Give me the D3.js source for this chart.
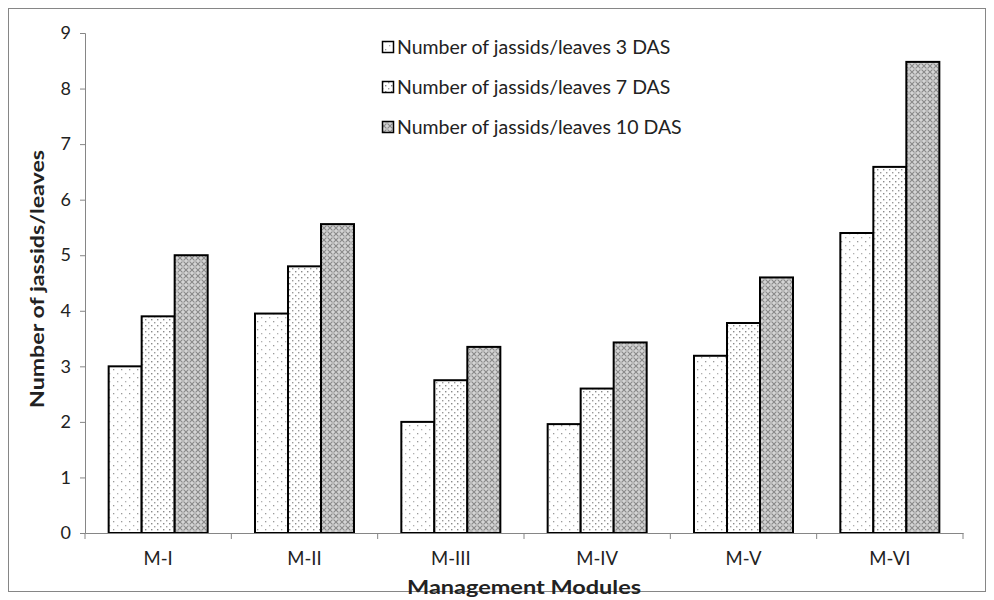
<!DOCTYPE html>
<html><head><meta charset="utf-8">
<script src="https://cdn.jsdelivr.net/npm/d3@7"></script>
<style>body{margin:0;background:#fff}svg{display:block}</style>
</head><body>
<svg id="c" width="994" height="600"></svg>
<script>
const categories = ["M-I","M-II","M-III","M-IV","M-V","M-VI"];
const seriesNames = ["Number of jassids/leaves 3 DAS","Number of jassids/leaves 7 DAS","Number of jassids/leaves 10 DAS"];
const das3 = [3.0, 3.95, 2.0, 1.96, 3.19, 5.4];
const das7 = [3.9, 4.8, 2.75, 2.6, 3.78, 6.59];
const das10 = [5.0, 5.56, 3.35, 3.43, 4.6, 8.48];
const yTicks = [0,1,2,3,4,5,6,7,8,9];
const series = [das3, das7, das10];

(function(){
const font = "Lato, 'Open Sans', sans-serif";
const svg = d3.select("#c");
svg.append("rect").attr("x",8.5).attr("y",8.5).attr("width",977).attr("height",583)
  .attr("fill","#fff").attr("stroke","#868686").attr("stroke-width",1);

const defs = svg.append("defs");
const p1 = defs.append("pattern").attr("id","p0").attr("patternUnits","userSpaceOnUse").attr("width",8).attr("height",8);
p1.append("rect").attr("width",8).attr("height",8).attr("fill","#fff");
p1.append("rect").attr("x",1).attr("y",1).attr("width",1.3).attr("height",1.3).attr("fill","#9a9a9a");
p1.append("rect").attr("x",5).attr("y",5).attr("width",1.3).attr("height",1.3).attr("fill","#b0b0b0");
const p2 = defs.append("pattern").attr("id","p1").attr("patternUnits","userSpaceOnUse").attr("width",6).attr("height",6);
p2.append("rect").attr("width",6).attr("height",6).attr("fill","#fff");
p2.append("rect").attr("x",1).attr("y",1).attr("width",1.4).attr("height",1.4).attr("fill","#8a8a8a");
p2.append("rect").attr("x",4).attr("y",4).attr("width",1.4).attr("height",1.4).attr("fill","#9a9a9a");
const p3 = defs.append("pattern").attr("id","p2").attr("patternUnits","userSpaceOnUse").attr("width",6).attr("height",6);
p3.append("rect").attr("width",6).attr("height",6).attr("fill","#d4d4d4");
p3.append("path").attr("d","M0,0L6,6M6,0L0,6").attr("stroke","#888").attr("stroke-width",1.1);
p3.append("rect").attr("x",2.4).attr("y",2.4).attr("width",1.2).attr("height",1.2).attr("fill","#fff");

const mLeft = 85, mRight = 963, mTop = 33, mBottom = 533;
const x = d3.scaleBand().domain(categories).range([mLeft,mRight]).paddingInner(0).paddingOuter(0);
const inner = d3.scaleBand().domain([0,1,2]).range([0, x.bandwidth()]).paddingInner(0).paddingOuter(0.717);
const y = d3.scaleLinear().domain([0,9]).range([mBottom,mTop]);

const ya = svg.append("g").attr("transform",`translate(${mLeft},0)`)
  .call(d3.axisLeft(y).tickValues(yTicks).tickSize(5).tickPadding(9).tickFormat(d3.format("d")));
ya.select(".domain").attr("stroke","#868686");
ya.selectAll(".tick line").attr("stroke","#868686");
ya.selectAll("text").attr("font-family",font).attr("font-size",18).attr("fill","#222");

categories.forEach((c,i)=>{
  series.forEach((s,j)=>{
    svg.append("rect")
      .attr("x", x(c)+inner(j)).attr("y", y(s[i]))
      .attr("width", inner.bandwidth()).attr("height", y(0)-y(s[i]))
      .attr("fill", `url(#p${j})`).attr("stroke","#000").attr("stroke-width",2);
  });
});

const xa = svg.append("g").attr("transform",`translate(0,${mBottom})`)
  .call(d3.axisBottom(x).tickSize(0).tickPadding(19));
xa.select(".domain").attr("stroke","#868686");
xa.selectAll("text").attr("font-family",font).attr("font-size",18.5).attr("fill","#222");
const bounds = categories.map(c=>x(c)).concat([mRight]);
svg.append("g").selectAll("line").data(bounds).join("line")
  .attr("x1",d=>d).attr("x2",d=>d).attr("y1",mBottom).attr("y2",mBottom+6).attr("stroke","#868686");

svg.append("text").attr("x",524).attr("y",594).attr("text-anchor","middle")
  .attr("font-family",font).attr("font-weight","bold").attr("font-size",18).attr("fill","#222")
  .attr("textLength",234).attr("lengthAdjust","spacingAndGlyphs")
  .text("Management Modules");
svg.append("text").attr("transform","translate(44,279) rotate(-90)").attr("text-anchor","middle")
  .attr("font-family",font).attr("font-weight","bold").attr("font-size",18).attr("fill","#222")
  .attr("textLength",258).attr("lengthAdjust","spacingAndGlyphs")
  .text("Number of jassids/leaves");

const lg = svg.append("g");
seriesNames.forEach((n,j)=>{
  const yy = 47 + j*40;
  lg.append("rect").attr("x",382.5).attr("y",yy-5.5).attr("width",11).attr("height",11)
    .attr("fill",`url(#p${j})`).attr("stroke","#000").attr("stroke-width",1.5);
  lg.append("text").attr("x",397).attr("y",yy+7).attr("font-family",font).attr("font-size",19.5)
    .attr("fill","#222").text(n);
});
})();
</script>
</body></html>
